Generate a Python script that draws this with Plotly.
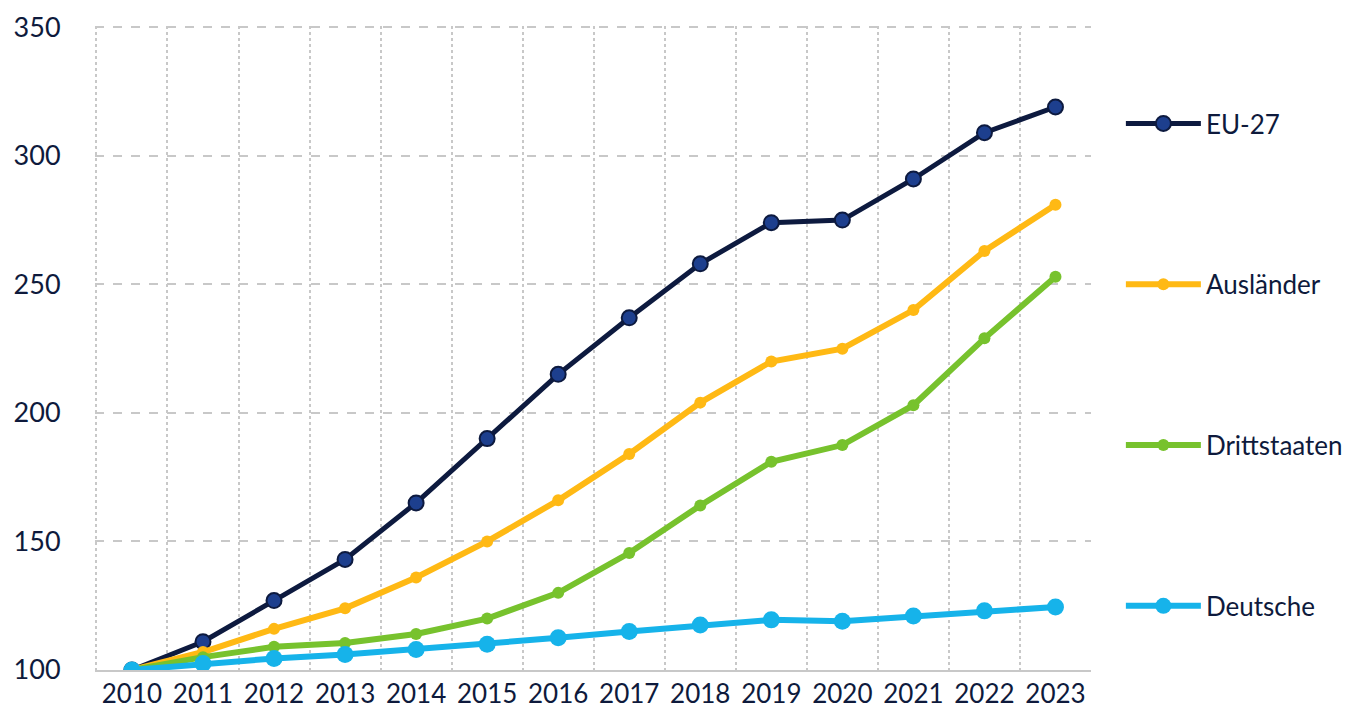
import plotly.graph_objects as go

years = [str(y) for y in range(2010, 2024)]

eu27 = [100, 111, 127, 143, 165, 190, 215, 237, 258, 274, 275, 291, 309, 319]
auslaender = [100, 107, 116, 124, 136, 150, 166, 184, 204, 220, 225, 240, 263, 281]
drittstaaten = [100, 105, 109, 110.5, 114, 120, 130, 145.5, 164, 181, 187.5, 203, 229, 253]
deutsche = [100, 102.5, 104.5, 106, 108, 110, 112.5, 115, 117.5, 119.5, 119, 121, 123, 124.5]

series = {
    "EU-27": (eu27, "#0d1a3f", 5, dict(size=15, color="#1d3f8e", line=dict(color="#0d1a3f", width=2))),
    "Ausländer": (auslaender, "#ffb914", 6, dict(size=12, color="#ffb914")),
    "Drittstaaten": (drittstaaten, "#77c22d", 6, dict(size=12, color="#77c22d")),
    "Deutsche": (deutsche, "#16b3ea", 6, dict(size=17, color="#16b3ea")),
}

font_family = "Lato, 'Open Sans', sans-serif"
text_color = "#0e1a3c"

fig = go.Figure()
for i, (name, (vals, col, w, mk)) in enumerate(series.items()):
    fig.add_trace(go.Scatter(x=years, y=vals, name=name, mode="lines+markers",
                             line=dict(color=col, width=w), marker=mk,
                             legendgroup=str(i)))

fig.update_layout(
    width=1371, height=724,
    margin=dict(l=87, r=288, t=18, b=62),
    plot_bgcolor="white", paper_bgcolor="white",
    font=dict(family=font_family, color=text_color, size=27),
    showlegend=True,
    legend=dict(x=1.03, y=0.885, xanchor="left", yanchor="top",
                font=dict(size=26, color=text_color),
                tracegroupgap=124, itemwidth=75,
                bgcolor="rgba(0,0,0,0)"),
    xaxis=dict(
        type="category", tickson="boundaries", tickangle=0, automargin=False,
        range=[-0.52, 13.5],
        showgrid=True, gridcolor="#c8c8c8", griddash="dot", gridwidth=2,
        showline=True, linecolor="#c8c8c8", linewidth=2,
        ticks="outside", ticklen=4, tickcolor="rgba(0,0,0,0)",
        tickfont=dict(size=26, color=text_color, family=font_family),
    ),
    yaxis=dict(
        range=[100, 350.5], dtick=50, tick0=100, automargin=False,
        ticklabeloverflow="allow",
        showgrid=True, gridcolor="#c8c8c8", griddash="dash", gridwidth=2,
        zeroline=False, showline=False,
        ticks="outside", ticklen=28, tickcolor="rgba(0,0,0,0)",
        tickfont=dict(size=27, color=text_color, family=font_family),
    ),
)

fig.write_html("out.html")
